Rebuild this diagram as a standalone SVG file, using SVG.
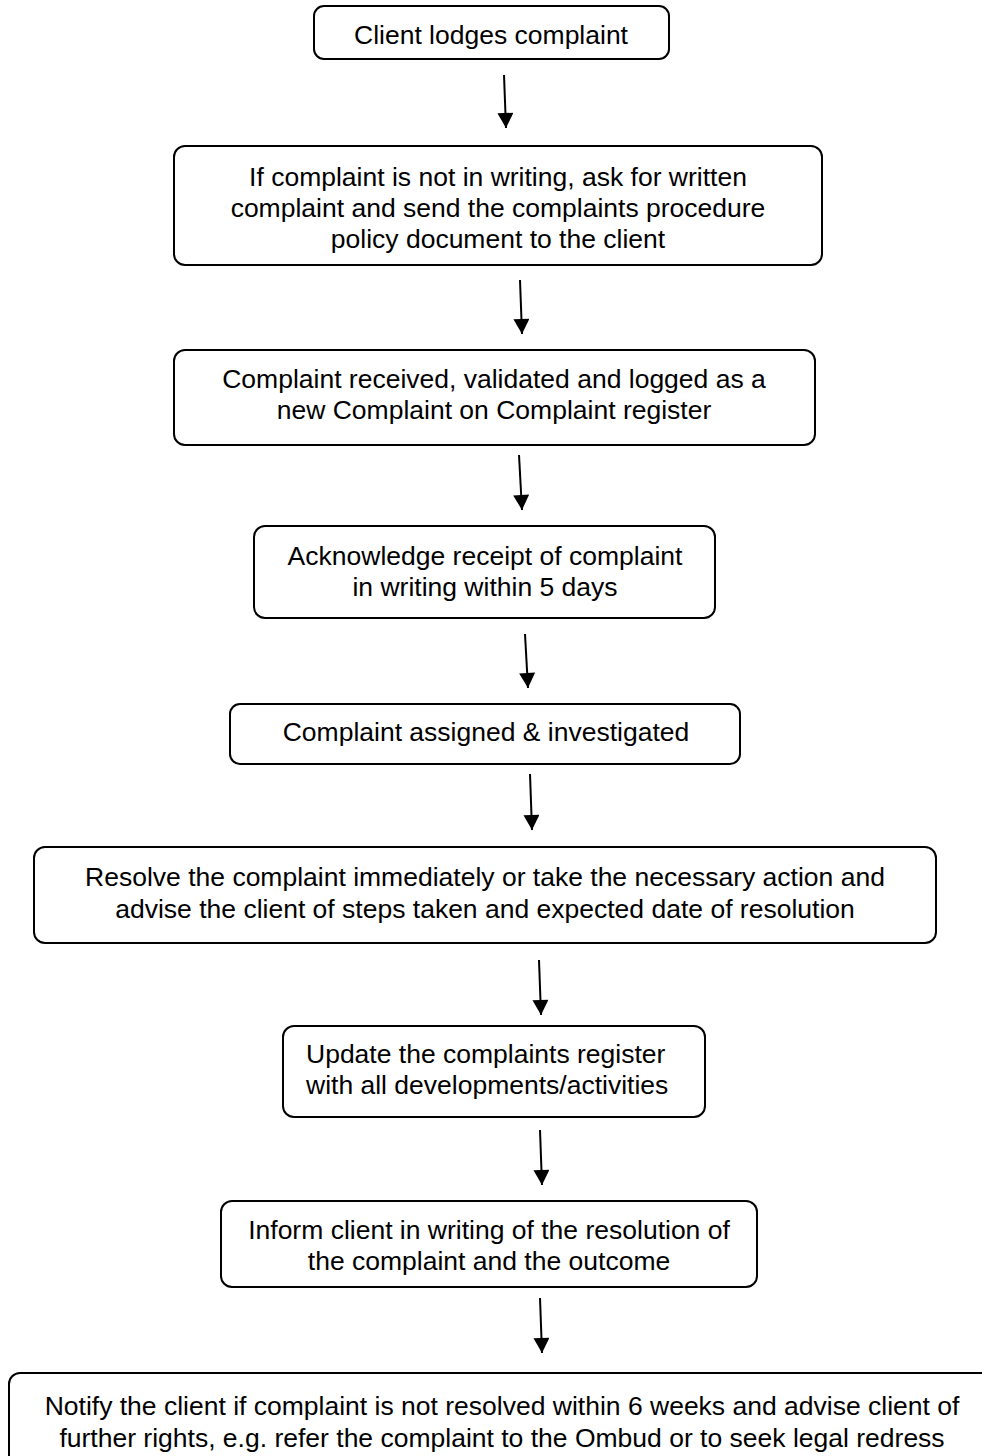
<svg xmlns="http://www.w3.org/2000/svg" width="982" height="1456" viewBox="0 0 982 1456">
<style>
.box{fill:#fff;stroke:#000;stroke-width:2}
.t{font-family:"Liberation Sans",Arial,sans-serif;font-size:26.5px;fill:#000;text-anchor:middle}
.ts{font-family:"Liberation Sans",Arial,sans-serif;font-size:26.5px;fill:#000;text-anchor:start}
.c{stroke:#000;stroke-width:2;fill:none;marker-end:url(#ah)}
</style>
<defs>
<marker id="ah" markerUnits="userSpaceOnUse" markerWidth="16" markerHeight="16" viewBox="0 0 15 16" refX="15" refY="8" orient="auto">
<path d="M0,0 L15,8 L0,16 z" fill="#000"/>
</marker>
</defs>
<rect width="982" height="1456" fill="#fff"/>
<g id="connectors">
<line class="c" x1="504" y1="75" x2="506" y2="128"/>
<line class="c" x1="520" y1="280" x2="522" y2="334"/>
<line class="c" x1="519" y1="455" x2="522" y2="510"/>
<line class="c" x1="525" y1="634" x2="528" y2="688"/>
<line class="c" x1="530" y1="774" x2="532" y2="830"/>
<line class="c" x1="539" y1="960" x2="541" y2="1015"/>
<line class="c" x1="540" y1="1130" x2="542" y2="1185"/>
<line class="c" x1="540" y1="1298" x2="542" y2="1353"/>
</g>
<g id="n1">
<rect class="box" x="314" y="6" width="355" height="53" rx="10"/>
<text class="t" x="491" y="44">Client lodges complaint</text>
</g>
<g id="n2">
<rect class="box" x="174" y="146" width="648" height="119" rx="11"/>
<text class="t" x="498" y="186">If complaint is not in writing, ask for written</text>
<text class="t" x="498" y="217">complaint and send the complaints procedure</text>
<text class="t" x="498" y="248">policy document to the client</text>
</g>
<g id="n3">
<rect class="box" x="174" y="350" width="641" height="95" rx="11"/>
<text class="t" x="494" y="388">Complaint received, validated and logged as a</text>
<text class="t" x="494" y="419">new Complaint on Complaint register</text>
</g>
<g id="n4">
<rect class="box" x="254" y="526" width="461" height="92" rx="11"/>
<text class="t" x="485" y="565">Acknowledge receipt of complaint</text>
<text class="t" x="485" y="596">in writing within 5 days</text>
</g>
<g id="n5">
<rect class="box" x="230" y="704" width="510" height="60" rx="10"/>
<text class="t" x="486" y="741">Complaint assigned &amp; investigated</text>
</g>
<g id="n6">
<rect class="box" x="34" y="847" width="902" height="96" rx="11"/>
<text class="t" x="485" y="886">Resolve the complaint immediately or take the necessary action and</text>
<text class="t" x="485" y="918">advise the client of steps taken and expected date of resolution</text>
</g>
<g id="n7">
<rect class="box" x="283" y="1026" width="422" height="91" rx="11"/>
<text class="ts" x="306" y="1063">Update the complaints register</text>
<text class="ts" x="306" y="1094">with all developments/activities</text>
</g>
<g id="n8">
<rect class="box" x="221" y="1201" width="536" height="86" rx="11"/>
<text class="t" x="489" y="1239">Inform client in writing of the resolution of</text>
<text class="t" x="489" y="1270">the complaint and the outcome</text>
</g>
<g id="n9">
<rect class="box" x="9" y="1373" width="990" height="130" rx="11"/>
<text class="t" x="502" y="1415">Notify the client if complaint is not resolved within 6 weeks and advise client of</text>
<text class="t" x="502" y="1447">further rights, e.g. refer the complaint to the Ombud or to seek legal redress</text>
</g>
</svg>
